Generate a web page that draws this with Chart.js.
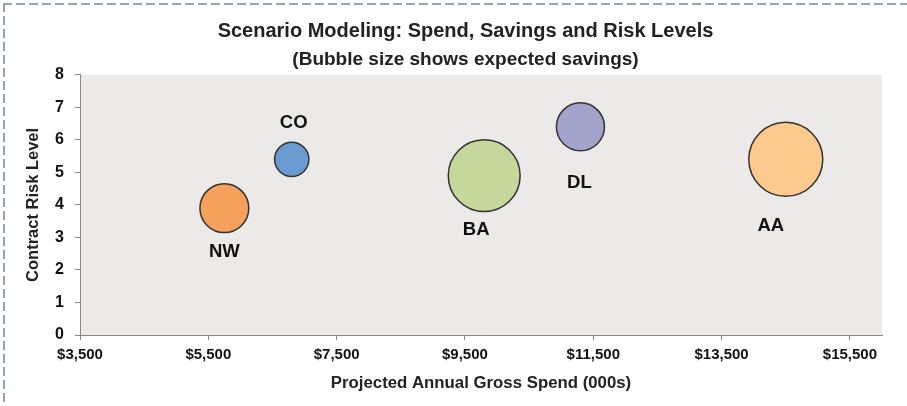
<!DOCTYPE html>
<html>
<head>
<meta charset="utf-8">
<script src="https://cdn.jsdelivr.net/npm/chart.js@4/dist/chart.umd.min.js"></script>
<style>
  html, body { margin: 0; padding: 0; background: #fff; }
  #wrap { position: relative; width: 907px; height: 406px; overflow: hidden; }
  #chart { position: absolute; left: 0; top: 0; }
  .dash-top { position: absolute; left: 3px; top: 3px; width: 904px; height: 2px;
    background: repeating-linear-gradient(to right, #97a3ad 0 9px, transparent 9px 13px); }
  .dash-left { position: absolute; left: 3px; top: 3px; width: 2px; height: 403px;
    background: repeating-linear-gradient(to bottom, #97a3ad 0 9px, transparent 9px 13px); }
</style>
</head>
<body>
<div id="wrap">
  <canvas id="chart" width="907" height="406"></canvas>
  <div class="dash-top"></div>
  <div class="dash-left"></div>
</div>
<script>
// data
const carriers = ["NW", "CO", "BA", "DL", "AA"];
const spend = [5750, 6800, 9800, 11300, 14500];     // projected annual gross spend (000s)
const risk = [3.9, 5.4, 4.9, 6.4, 5.4];             // contract risk level
const savings = [610, 300, 1320, 590, 1400];         // expected savings -> bubble area
const xTicks = [3500, 5500, 7500, 9500, 11500, 13500, 15500];

// styling
const colors = ["#F5A15C", "#6A9BD0", "#C6D79C", "#A3A3CB", "#FBCA8C"];
const labelOffsets = [[0, 44], [2, -36], [-8, 54], [-1, 56], [-15, 67]];
const MAX_R = 37;
const FONT = "'Liberation Sans', Arial, Helvetica, sans-serif";

const maxSavings = Math.max(...savings);
const points = carriers.map((c, i) => ({
  x: spend[i],
  y: risk[i],
  r: MAX_R * Math.sqrt(savings[i] / maxSavings),
}));

const plotBg = {
  id: "plotBg",
  beforeDraw(chart) {
    const { ctx, chartArea: a } = chart;
    ctx.save();
    ctx.fillStyle = "#ECEAE8";
    ctx.fillRect(a.left, a.top, a.right - a.left, a.bottom - a.top);
    ctx.restore();
  },
};

const bubbleLabels = {
  id: "bubbleLabels",
  afterDatasetsDraw(chart) {
    const { ctx } = chart;
    const meta = chart.getDatasetMeta(0);
    ctx.save();
    ctx.font = "bold 18.5px " + FONT;
    ctx.fillStyle = "#111";
    ctx.textAlign = "center";
    ctx.textBaseline = "middle";
    meta.data.forEach((el, i) => {
      const off = labelOffsets[i];
      ctx.fillText(carriers[i], el.x + off[0], el.y + off[1]);
    });
    ctx.restore();
  },
};

Chart.defaults.font.family = FONT;
Chart.defaults.color = "#111";

new Chart("chart", {
  type: "bubble",
  data: {
    datasets: [
      {
        label: "Carriers",
        data: points,
        backgroundColor: colors,
        borderColor: "#333",
        borderWidth: 1.5,
        hoverRadius: 0,
      },
    ],
  },
  options: {
    responsive: false,
    animation: false,
    events: [],
    layout: { autoPadding: false, padding: { left: 24, right: 0, top: 0, bottom: 0 } },
    plugins: {
      legend: { display: false },
      tooltip: { enabled: false },
      title: {
        display: true,
        text: "Scenario Modeling: Spend, Savings and Risk Levels",
        font: { size: 20, weight: "bold" },
        color: "#222",
        padding: { top: 19, bottom: 5 },
      },
      subtitle: {
        display: true,
        text: "(Bubble size shows expected savings)",
        font: { size: 19, weight: "bold" },
        color: "#222",
        padding: { top: 0, bottom: 4 },
      },
    },
    scales: {
      x: {
        type: "linear",
        min: 3500,
        max: 16000,
        afterBuildTicks: (scale) => {
          scale.ticks = xTicks.map((v) => ({ value: v }));
        },
        afterFit: (scale) => {
          scale.height = 71;
          scale.paddingLeft = 0;
          scale.paddingRight = 25;
        },
        grid: { drawOnChartArea: false, tickLength: 5, color: "#888" },
        border: { color: "#888", width: 1 },
        ticks: {
          font: { size: 15, weight: "bold" },
          padding: 6,
          maxRotation: 0,
          callback: (v) => "$" + v.toLocaleString("en-US"),
        },
        title: {
          display: true,
          text: "Projected Annual Gross Spend (000s)",
          font: { size: 16.8, weight: "bold" },
          color: "#222",
          padding: { top: 0, bottom: 13 },
        },
      },
      y: {
        min: 0,
        max: 8,
        afterFit: (scale) => {
          scale.width = 56;
        },
        grid: { drawOnChartArea: false, tickLength: 5, color: "#888" },
        border: { color: "#888", width: 1 },
        ticks: {
          stepSize: 1,
          font: { size: 16, weight: "bold" },
          padding: 11,
        },
        title: {
          display: true,
          text: "Contract Risk Level",
          font: { size: 16.5, weight: "bold" },
          color: "#222",
          padding: { top: 0, bottom: 0 },
        },
      },
    },
  },
  plugins: [plotBg, bubbleLabels],
});
</script>
</body>
</html>
